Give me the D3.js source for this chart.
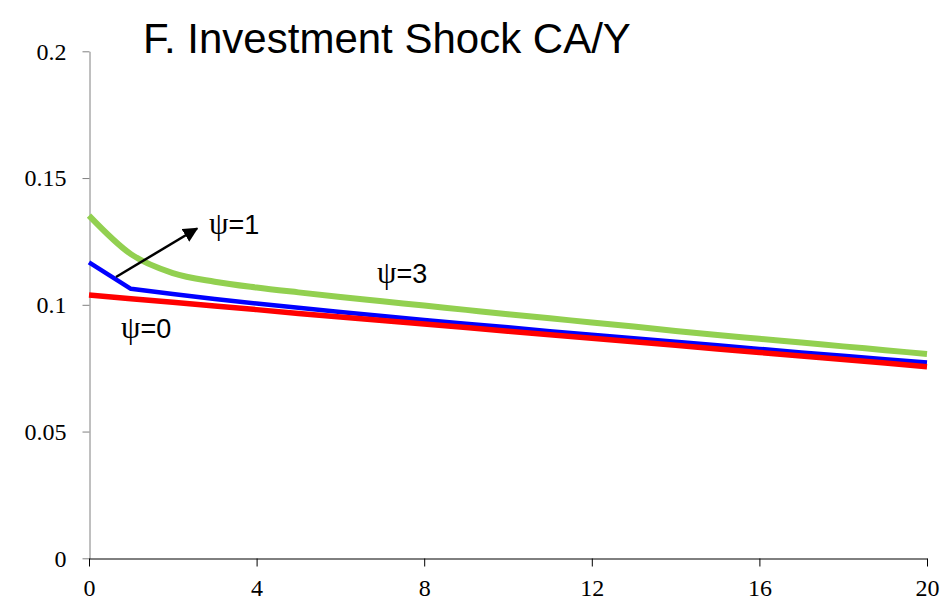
<!DOCTYPE html>
<html lang="en">
<head>
<meta charset="UTF-8">
<title>F. Investment Shock CA/Y</title>
<script src="https://d3js.org/d3.v7.min.js"></script>
<style>
    body { margin: 0; background: #fff; }
    .tick text { font-family: "Liberation Serif", "Times New Roman", serif; fill: #000; }
    .label { font-family: "Liberation Sans", Arial, sans-serif; fill: #000; }
</style>
</head>
<body>
<svg width="948" height="605"></svg>
<script>
    // periods after the shock
    var periods = d3.range(0, 21);

    // CA/Y responses
    var psi0 = [0.1039, 0.1024, 0.1010, 0.0995, 0.0981, 0.0966, 0.0952, 0.0938, 0.0924, 0.0910,
                0.0896, 0.0882, 0.0868, 0.0854, 0.0840, 0.0826, 0.0812, 0.0798, 0.0784, 0.0770, 0.0756];
    var psi1 = [0.1167, 0.1063, 0.1043, 0.1023, 0.1005, 0.0988, 0.0972, 0.0956, 0.0940, 0.0925,
                0.0911, 0.0896, 0.0882, 0.0868, 0.0854, 0.0840, 0.0826, 0.0812, 0.0799, 0.0785, 0.0772];
    var psi3 = [0.1352, 0.1200, 0.1125, 0.1091, 0.1068, 0.1049, 0.1031, 0.1014, 0.0997, 0.0980,
                0.0963, 0.0947, 0.0930, 0.0914, 0.0897, 0.0881, 0.0866, 0.0851, 0.0836, 0.0821, 0.0806];

    var xTicks = [0, 4, 8, 12, 16, 20];
    var yTicks = [0, 0.05, 0.1, 0.15, 0.2];

    var svg = d3.select("svg");

    var x = d3.scaleLinear().domain([0, 20]).range([89, 927]);
    var y = d3.scaleLinear().domain([0, 0.2]).range([558.3, 51.3]);

    // y axis (grey)
    var yAxis = svg.append("g")
        .attr("transform", "translate(89.5,0)")
        .call(d3.axisLeft(y).tickValues(yTicks).tickSize(7).tickSizeOuter(0).tickPadding(16)
            .tickFormat(function(d) { return d === 0 ? "0" : String(+d.toFixed(2)); }));
    yAxis.select(".domain").attr("stroke", "#808080");
    yAxis.selectAll(".tick line").attr("stroke", "#808080");
    yAxis.selectAll(".tick text").attr("font-size", "24px").attr("dy", "0.33em");
    yAxis.attr("font-family", null);

    // x axis (black)
    var xAxis = svg.append("g")
        .attr("transform", "translate(0,558.5)")
        .call(d3.axisBottom(x).tickValues(xTicks).tickSize(8).tickSizeOuter(0).tickPadding(12));
    xAxis.select(".domain").attr("stroke", "#000");
    xAxis.selectAll(".tick line").attr("stroke", "#000");
    xAxis.selectAll(".tick text").attr("font-size", "24px");
    xAxis.attr("font-family", null);

    var series = [
        {values: psi3, color: "#92D050", width: 6, curve: d3.curveMonotoneX},
        {values: psi1, color: "#0000FF", width: 4.5, curve: d3.curveLinear},
        {values: psi0, color: "#FF0000", width: 5.5, curve: d3.curveLinear}
    ];

    svg.selectAll(".series")
        .data(series)
        .enter().append("path")
        .attr("class", "series")
        .attr("fill", "none")
        .attr("stroke", function(d) { return d.color; })
        .attr("stroke-width", function(d) { return d.width; })
        .attr("stroke-linejoin", "round")
        .attr("d", function(d) {
            return d3.line()
                .x(function(v, i) { return x(periods[i]); })
                .y(function(v) { return y(v); })
                .curve(d.curve)(d.values);
        });

    // title
    svg.append("text")
        .attr("class", "label")
        .attr("x", 143)
        .attr("y", 53)
        .attr("font-size", "42px")
        .text("F. Investment Shock CA/Y");

    // arrow
    svg.append("defs").append("marker")
        .attr("id", "arrowhead")
        .attr("viewBox", "0 0 10 10")
        .attr("refX", 9).attr("refY", 5)
        .attr("markerWidth", 6).attr("markerHeight", 6)
        .attr("markerUnits", "strokeWidth")
        .attr("orient", "auto")
        .append("path")
        .attr("d", "M0,0 L10,5 L0,10 Z")
        .attr("fill", "#000");

    svg.append("line")
        .attr("x1", 116).attr("y1", 277)
        .attr("x2", 197).attr("y2", 228.5)
        .attr("stroke", "#000")
        .attr("stroke-width", 2.5)
        .attr("marker-end", "url(#arrowhead)");

    // psi labels
    var labels = [
        {text: "1", x: 209, y: 234},
        {text: "3", x: 377, y: 283},
        {text: "0", x: 121, y: 338}
    ];
    labels.forEach(function(l) {
        var t = svg.append("text")
            .attr("class", "label")
            .attr("x", l.x)
            .attr("y", l.y)
            .attr("font-size", "27px");
        t.append("tspan")
            .attr("font-family", "'Liberation Serif', 'Times New Roman', serif")
            .attr("font-size", "31px")
            .text("\u03C8");
        t.append("tspan").text("=" + l.text);
    });
</script>
</body>
</html>
